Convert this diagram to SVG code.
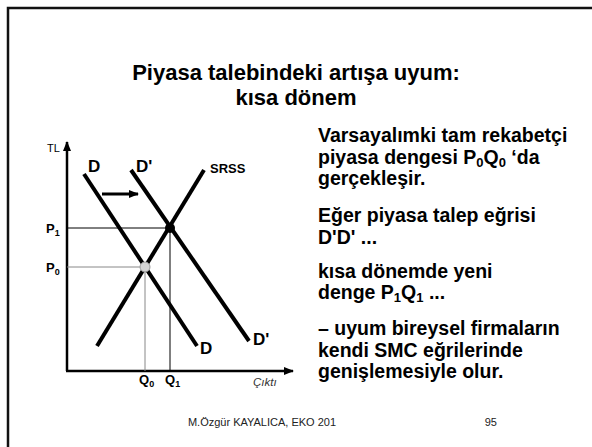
<svg xmlns="http://www.w3.org/2000/svg" width="592" height="447" viewBox="0 0 592 447">
<defs>
<style>
text{font-family:"Liberation Sans",Arial,sans-serif;fill:#000}
.curve{stroke:#000;stroke-width:4;fill:none}
.axis{stroke:#000;stroke-width:2.5;fill:none}
.guide{stroke-width:1;fill:none}
.body{font-size:19.5px;font-weight:bold}
.bsub{font-size:13px}
.sub{font-size:9px}
.lab{font-size:13px;font-weight:bold}
.big{font-size:17px;font-weight:bold}
.ttl{font-size:22px;font-weight:bold}
</style>
<marker id="ah" markerWidth="10" markerHeight="8" refX="9" refY="4" orient="auto" markerUnits="userSpaceOnUse">
<path d="M0,0 L10,4 L0,8 Z" fill="#000"/>
</marker>
</defs>
<rect x="0" y="0" width="592" height="447" fill="#fff"/>
<rect x="8" y="8" width="600" height="460" fill="none" stroke="#111" stroke-width="2.5"/>
<g id="title">
<text x="296" y="80" text-anchor="middle" class="ttl">Piyasa talebindeki artışa uyum:</text>
<text x="296" y="105" text-anchor="middle" class="ttl">kısa dönem</text>
</g>
<g id="connectors">
<line class="axis" x1="67" y1="371" x2="67" y2="142" marker-end="url(#ah)"/>
<line class="axis" x1="66" y1="371" x2="293" y2="371" marker-end="url(#ah)"/>
<line class="guide" stroke="#000" x1="67" y1="228" x2="170" y2="228"/>
<line class="guide" stroke="#000" x1="170" y1="228" x2="170" y2="371"/>
<line class="guide" stroke="#888" x1="67" y1="267" x2="145" y2="267"/>
<line class="guide" stroke="#888" x1="145" y1="267" x2="145" y2="371"/>
<line class="curve" x1="84" y1="174" x2="197" y2="346"/>
<line class="curve" x1="131" y1="170" x2="249" y2="341"/>
<line class="curve" x1="97" y1="346" x2="204" y2="170"/>
<line stroke="#000" stroke-width="3" x1="102" y1="194" x2="138" y2="194" marker-end="url(#ah)"/>
</g>
<g id="eq1"><circle cx="170" cy="228" r="5" fill="#000"/></g>
<g id="eq0"><circle cx="145" cy="267" r="5" fill="#d4d4d4" stroke="#999" stroke-width="1"/></g>
<g id="labels">
<text x="47" y="152" style="font-size:11px">TL</text>
<text x="88" y="172" class="big">D</text>
<text x="136" y="172" class="big">D'</text>
<text x="210" y="173" style="font-size:13px;font-weight:bold">SRSS</text>
<text x="200" y="354" class="big">D</text>
<text x="253" y="345" class="big">D'</text>
<text x="46" y="233" class="lab">P<tspan class="sub" dy="3">1</tspan></text>
<text x="46" y="272" class="lab">P<tspan class="sub" dy="3">0</tspan></text>
<text x="139" y="384" class="lab">Q<tspan class="sub" dy="3">0</tspan></text>
<text x="165" y="384" class="lab">Q<tspan class="sub" dy="3">1</tspan></text>
<text x="253" y="386" style="font-size:11.5px;font-style:italic;fill:#333">Çıktı</text>
</g>
<g id="text">
<text x="318" y="142" class="body">Varsayalımki tam rekabetçi</text>
<text x="318" y="164" class="body">piyasa dengesi P<tspan class="bsub" dy="3">0</tspan><tspan dy="-3">Q</tspan><tspan class="bsub" dy="3">0</tspan><tspan dy="-3"> ‘da</tspan></text>
<text x="318" y="185" class="body">gerçekleşir.</text>
<text x="318" y="222" class="body">Eğer piyasa talep eğrisi</text>
<text x="318" y="244" class="body">D'D' ...</text>
<text x="318" y="278" class="body">kısa dönemde yeni</text>
<text x="318" y="299" class="body">denge P<tspan class="bsub" dy="3">1</tspan><tspan dy="-3">Q</tspan><tspan class="bsub" dy="3">1</tspan><tspan dy="-3"> ...</tspan></text>
<text x="318" y="335" class="body">– uyum bireysel firmaların</text>
<text x="318" y="357" class="body">kendi SMC eğrilerinde</text>
<text x="318" y="378" class="body">genişlemesiyle olur.</text>
</g>
<g id="footer">
<text x="262" y="426" text-anchor="middle" style="font-size:11px;fill:#222">M.Özgür KAYALICA, EKO 201</text>
<text x="497" y="426" text-anchor="end" style="font-size:11px;fill:#222">95</text>
</g>
</svg>
